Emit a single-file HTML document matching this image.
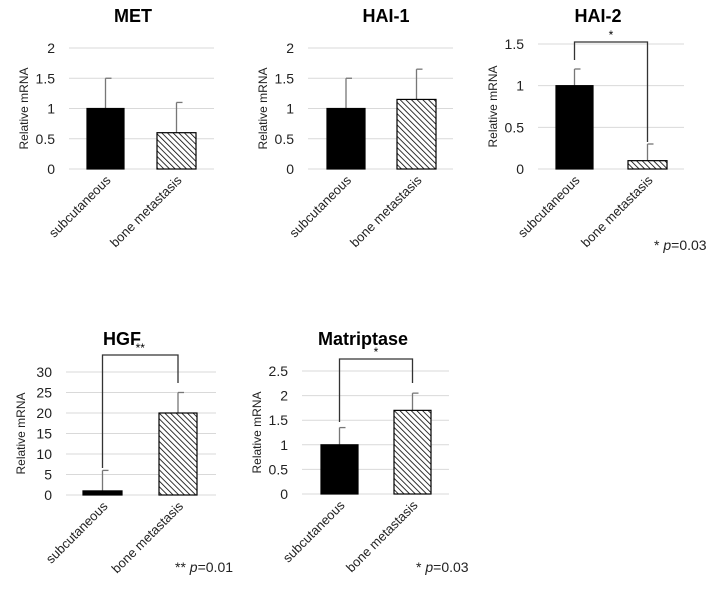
<!DOCTYPE html>
<html><head><meta charset="utf-8"><style>
body{margin:0;background:#fff;}
svg{display:block;font-family:"Liberation Sans",Arial,sans-serif;}
</style></head><body>
<svg id="fig" width="718" height="599" viewBox="0 0 718 599">
<defs>
<pattern id="hatch" patternUnits="userSpaceOnUse" width="4" height="4" patternTransform="rotate(-45)">
<rect width="4" height="4" fill="#fff"/><line x1="0" y1="0" x2="0" y2="4" stroke="#000" stroke-width="1.6"/>
</pattern>
</defs>
</svg>
<script>
const categories = ["subcutaneous", "bone metastasis"];
const titles = ["MET", "HAI-1", "HAI-2", "HGF", "Matriptase"];
const metValues = [1, 0.6];
const metErrors = [0.5, 0.5];
const hai1Values = [1, 1.15];
const hai1Errors = [0.5, 0.5];
const hai2Values = [1, 0.1];
const hai2Errors = [0.2, 0.2];
const hgfValues = [1, 20];
const hgfErrors = [5, 5];
const matValues = [1, 1.7];
const matErrors = [0.35, 0.35];
const metTicks = [0, 0.5, 1, 1.5, 2];
const hai1Ticks = [0, 0.5, 1, 1.5, 2];
const hai2Ticks = [0, 0.5, 1, 1.5];
const hgfTicks = [0, 5, 10, 15, 20, 25, 30];
const matTicks = [0, 0.5, 1, 1.5, 2, 2.5];
const pLabels = ["", "", "* p=0.03", "** p=0.01", "* p=0.03"];
const sigStars = ["", "", "*", "**", "*"];

const NS = "http://www.w3.org/2000/svg";
const svg = document.getElementById("fig");
function mk(tag, attrs, parent) {
  const e = document.createElementNS(NS, tag);
  for (const k in attrs) e.setAttribute(k, attrs[k]);
  (parent || svg).appendChild(e);
  return e;
}
const panels = [
  {v: metValues, e: metErrors, t: metTicks, x0: 69, x1: 214, yTop: 48, yBot: 169, bars: [[87,124],[157,196]], tx: 133, ty: 22, pl: null, br: null},
  {v: hai1Values, e: hai1Errors, t: hai1Ticks, x0: 308, x1: 453, yTop: 48, yBot: 169, bars: [[327,365],[397,436]], tx: 386, ty: 22, pl: null, br: null},
  {v: hai2Values, e: hai2Errors, t: hai2Ticks, x0: 538, x1: 684, yTop: 44, yBot: 169, bars: [[556,593],[628,667]], tx: 598, ty: 22, pl: [654, 250], br: [42, 60, 142]},
  {v: hgfValues, e: hgfErrors, t: hgfTicks, x0: 66, x1: 216, yTop: 372, yBot: 495, bars: [[83,122],[159,197]], tx: 122, ty: 345, pl: [175, 572], br: [355, 468, 383]},
  {v: matValues, e: matErrors, t: matTicks, x0: 302, x1: 449, yTop: 371, yBot: 494, bars: [[321,358],[394,431]], tx: 363, ty: 345, pl: [416, 572], br: [359, 422, 383]}
];
panels.forEach((p, i) => {
  const g = mk("g", {});
  
  
  const tmax = p.t[p.t.length - 1];
  const y = v => p.yBot - (v / tmax) * (p.yBot - p.yTop);
  const title = mk("text", {x: p.tx, y: p.ty, "text-anchor": "middle", "font-size": 18, "font-weight": "bold"}, g);
  title.textContent = titles[i];
  
  
  p.t.forEach(tv => {
    const gl = mk("line", {x1: p.x0, x2: p.x1, y1: y(tv), y2: y(tv), stroke: "#d9d9d9", "stroke-width": 1}, g);
    
    
    const tl = mk("text", {x: p.x0 - 14, y: y(tv) + 5, "text-anchor": "end", "font-size": 14, fill: "#222"}, g);
    tl.textContent = tv;
    
    
  });
  const cy = (p.yTop + p.yBot) / 2;
  const yt = mk("text", {x: 0, y: 0, transform: `translate(${p.x0 - 41},${cy}) rotate(-90)`, "text-anchor": "middle", "font-size": 12, fill: "#222"}, g);
  yt.textContent = "Relative mRNA";
  
  
  p.bars.forEach((b, j) => {
    const cx = (b[0] + b[1]) / 2;
    const top = y(p.v[j] + p.e[j]);
    const el = mk("line", {x1: cx, x2: cx, y1: y(p.v[j]), y2: top, stroke: "#777", "stroke-width": 1.3}, g);
    
    
    const ec = mk("line", {x1: cx, x2: cx + 6, y1: top, y2: top, stroke: "#777", "stroke-width": 1.3}, g);
    
    
    const r = mk("rect", {x: b[0], y: y(p.v[j]), width: b[1] - b[0], height: p.yBot - y(p.v[j]), fill: j === 0 ? "#000" : "url(#hatch)", stroke: "#000", "stroke-width": 1.2}, g);
    
    
    const cl = mk("text", {x: 0, y: 0, transform: `translate(${cx + 6},${p.yBot + 12}) rotate(-45)`, "text-anchor": "end", "font-size": 13, fill: "#222"}, g);
    cl.textContent = categories[j];
    
    
  });
  if (p.br) {
    const lx = (p.bars[0][0] + p.bars[0][1]) / 2, rx = (p.bars[1][0] + p.bars[1][1]) / 2;
    const bp = mk("polyline", {points: `${lx},${p.br[1]} ${lx},${p.br[0]} ${rx},${p.br[0]} ${rx},${p.br[2]}`, fill: "none", stroke: "#333", "stroke-width": 1.3}, g);
    
    
    const st = mk("text", {x: (lx + rx) / 2, y: p.br[0] - 3, "text-anchor": "middle", "font-size": 12}, g);
    st.textContent = sigStars[i];
    
    
  }
  if (p.pl) {
    const parts = pLabels[i].split("p");
    const pt = mk("text", {x: p.pl[0], y: p.pl[1], "font-size": 14, fill: "#222"}, g);
    
    
    const s1 = mk("tspan", {}, pt); s1.textContent = parts[0];
    const s2 = mk("tspan", {"font-style": "italic"}, pt); s2.textContent = "p";
    const s3 = mk("tspan", {}, pt); s3.textContent = parts[1];
  }
});
</script>
</body></html>
